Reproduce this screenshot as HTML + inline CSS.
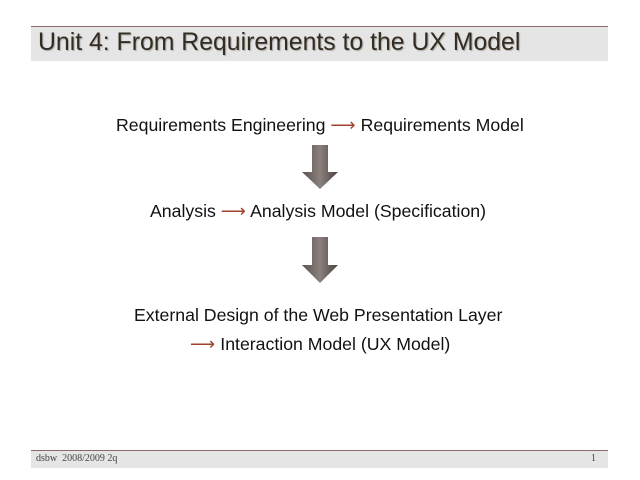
<!DOCTYPE html>
<html><head><style>
body{margin:0;width:640px;height:480px;background:#fff;position:relative;overflow:hidden;font-family:"Liberation Sans",sans-serif;}
.t{position:absolute;font-size:17.7px;color:#111;white-space:nowrap;line-height:20px}
.ar{color:#a0412d}
</style></head><body>
<div style="position:absolute;left:31px;top:26px;width:577px;height:1px;background:#8a6a66"></div>
<div style="position:absolute;left:31px;top:27px;width:577px;height:34px;background:#e6e5e5"></div>
<div style="position:absolute;left:38px;top:29px;font-size:24.8px;color:#342c20;text-shadow:1px 1px 1px #aaa;white-space:nowrap">Unit 4: From Requirements to the UX Model</div>

<div class="t" style="left:116px;top:115px">Requirements Engineering <span class="ar">⟶</span> Requirements Model</div>
<div class="t" style="left:150px;top:201px">Analysis <span class="ar">⟶</span> Analysis Model (Specification)</div>
<div class="t" style="left:134px;top:305px">External Design of the Web Presentation Layer</div>
<div class="t" style="left:190px;top:334px"><span class="ar">⟶</span> Interaction Model (UX Model)</div>

<svg style="position:absolute;left:0;top:0" width="640" height="480">
<defs><linearGradient id="g" x1="0" x2="1"><stop offset="0" stop-color="#5a5250"/><stop offset="0.5" stop-color="#8a807e"/><stop offset="1" stop-color="#4a4240"/></linearGradient></defs>
<polygon points="312,145 328,145 328,172 338,172 320,189 302,172 312,172" fill="url(#g)"/>
<polygon points="312,237 328,237 328,265 338,265 320,283 302,265 312,265" fill="url(#g)"/>
</svg>

<div style="position:absolute;left:31px;top:450px;width:577px;height:1px;background:#8a6a66"></div>
<div style="position:absolute;left:31px;top:451px;width:577px;height:17px;background:#e6e5e5"></div>
<div style="position:absolute;left:36px;top:453px;font-family:'Liberation Serif',serif;font-size:10px;color:#444">dsbw&nbsp; 2008/2009 2q</div>
<div style="position:absolute;left:591px;top:453px;font-family:'Liberation Serif',serif;font-size:10px;color:#444">1</div>
</body></html>
